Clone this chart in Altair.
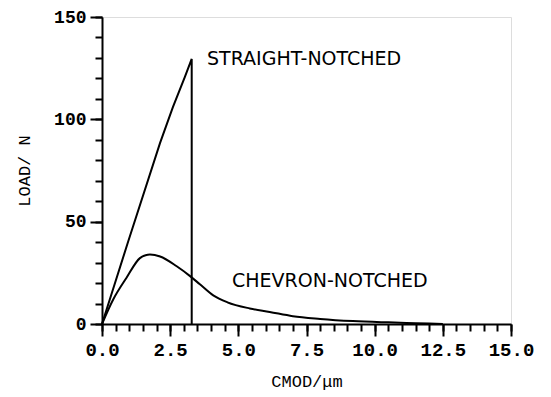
import altair as alt
import pandas as pd

# Straight-notched specimen: load vs CMOD
straight_x = [0.0, 0.96, 2.13, 2.6, 3.04, 3.29, 3.29]
straight_y = [0.0, 40.3, 88.5, 106.0, 120.7, 129.5, 0.0]

# Chevron-notched specimen: load vs CMOD
chevron_x = [0.0, 0.42, 0.9, 1.39, 1.6, 1.76, 2.13, 2.74, 3.23, 3.59, 4.08, 4.6,
             5.42, 6.15, 7.0, 8.0, 9.2, 10.5, 11.5, 12.5]
chevron_y = [0.0, 12.2, 22.6, 32.2, 33.6, 33.9, 33.0, 28.2, 23.4, 19.4, 14.0, 10.6,
             7.6, 5.9, 3.8, 2.5, 1.45, 0.8, 0.4, 0.0]

# Curve labels
label_text = ["STRAIGHT-NOTCHED", "CHEVRON-NOTCHED"]
label_x = [3.85, 4.77]
label_y = [129.5, 21.0]

x_major = [0.0, 2.5, 5.0, 7.5, 10.0, 12.5, 15.0]
x_minor = [i * 0.5 for i in range(31)]
y_major = [0, 50, 100, 150]
y_minor = list(range(0, 151, 10))

straight = pd.DataFrame({"cmod": straight_x, "load": straight_y,
                         "order": range(len(straight_x))})
chevron = pd.DataFrame({"cmod": chevron_x, "load": chevron_y,
                        "order": range(len(chevron_x))})
labels = pd.DataFrame({"text": label_text, "cmod": label_x, "load": label_y})

xscale = alt.Scale(domain=[0, 15], nice=False, zero=False)
yscale = alt.Scale(domain=[0, 150], nice=False)

MONO = "Liberation Mono"

x_axis = alt.Axis(values=x_major, format=".1f", tickSize=12, tickWidth=2,
                  domainWidth=2, domainColor="black", tickColor="black",
                  labelFont=MONO, labelFontWeight="bold", labelFontSize=19,
                  labelColor="black", labelPadding=4,
                  title="CMOD/μm", titleFont=MONO, titleFontWeight="normal",
                  titleFontSize=17, titleColor="black", titlePadding=14,
                  grid=False, orient="bottom", labelFlush=False)
y_axis = alt.Axis(values=y_major, format="d", tickSize=12, tickWidth=2,
                  domainWidth=2, domainColor="black", tickColor="black",
                  labelFont=MONO, labelFontWeight="bold", labelFontSize=18,
                  labelColor="black", labelPadding=4,
                  title="LOAD/ N", titleFont=MONO, titleFontWeight="normal",
                  titleFontSize=17, titleColor="black", titlePadding=20,
                  grid=False, orient="left", labelFlush=False)

line_straight = alt.Chart(straight).mark_line(color="black", strokeWidth=2).encode(
    x=alt.X("cmod:Q", scale=xscale, axis=x_axis),
    y=alt.Y("load:Q", scale=yscale, axis=y_axis),
    order="order:Q",
)

line_chevron = alt.Chart(chevron).mark_line(color="black", strokeWidth=2,
                                            interpolate="monotone").encode(
    x=alt.X("cmod:Q", scale=xscale, axis=None),
    y=alt.Y("load:Q", scale=yscale, axis=None),
    order="order:Q",
)

minor = alt.Chart(chevron).mark_point(opacity=0).encode(
    x=alt.X("cmod:Q", scale=xscale,
            axis=alt.Axis(values=x_minor, labels=False, tickSize=7, tickWidth=2,
                          tickColor="black", domain=False, grid=False, title=None,
                          orient="bottom")),
    y=alt.Y("load:Q", scale=yscale,
            axis=alt.Axis(values=y_minor, labels=False, tickSize=7, tickWidth=2,
                          tickColor="black", domain=False, grid=False, title=None,
                          orient="left")),
)

text = alt.Chart(labels).mark_text(align="left", baseline="middle",
                                   font="DejaVu Sans", fontSize=19,
                                   color="black").encode(
    x=alt.X("cmod:Q", scale=xscale, axis=None),
    y=alt.Y("load:Q", scale=yscale, axis=None),
    text="text:N",
)

chart = alt.layer(line_straight, line_chevron, minor, text).resolve_axis(
    x="independent", y="independent"
).properties(
    width=409, height=307,
    autosize=alt.AutoSizeParams(type="none"),
    padding={"left": 94, "top": 9, "right": 30, "bottom": 72},
).configure_view(stroke=None).configure(background="white")

chart.save("out.html", embed_options={"renderer": "svg", "actions": False})
